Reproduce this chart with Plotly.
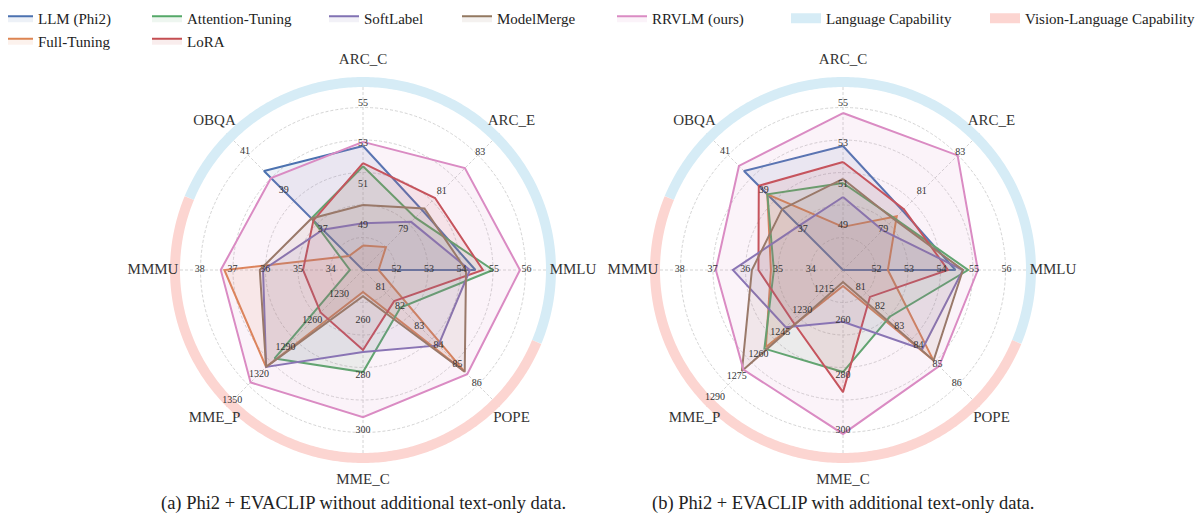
import numpy as np
import plotly.graph_objects as go

# ---------------- data ----------------
CATEGORIES = ["ARC_C", "ARC_E", "MMLU", "POPE", "MME_C", "MME_P", "MMMU", "OBQA"]
ANGLES = [0, 45, 90, 135, 180, 225, 270, 315]

SERIES = ["LLM (Phi2)", "Full-Tuning", "Attention-Tuning", "LoRA",
          "SoftLabel", "ModelMerge", "RRVLM (ours)"]
COLORS = ["#4C72B0", "#DD8452", "#55A868", "#C44E52", "#8172B3", "#937860", "#DA8BC3"]

# (a) without additional text-only data
A_LLM       = [52.9, 80.0, 54.43, None, None, None, None, 40.02]
A_FULL      = [48.0, 78.1, 51.45, 85.35, 249.8, 1312.0, 37.25, 35.65]
A_ATTN      = [51.9, 79.63, 54.97, 82.03, 278.9, 1302.4, 33.42, 37.58]
A_LORA      = [52.06, 80.65, 54.66, 81.7, 270.9, 1250.7, 34.85, 37.48]
A_SOFT      = [49.1, 79.41, 54.26, 84.0, 271.6, 1311.9, 36.07, 37.0]
A_MERGE     = [50.0, 80.1, 54.14, 85.37, 251.3, 1311.9, 36.17, 37.58]
A_RRVLM     = [53.1, 82.2, 55.8, 85.5, 295.3, 1329.4, 37.36, 39.66]

# (b) with additional text-only data
B_LLM       = [52.9, 80.0, 54.43, None, None, None, None, 40.02]
B_FULL      = [48.92, 79.7, 52.35, 84.79, 247.6, 1255.0, 35.22, 38.82]
B_ATTN      = [51.08, 79.59, 54.82, 82.51, 278.9, 1256.0, 35.13, 38.82]
B_LORA      = [52.11, 80.07, 54.2, 81.48, 286.2, 1236.8, 35.6, 39.26]
B_SOFT      = [50.39, 78.97, 54.66, 84.2, 260.6, 1241.3, 36.38, 37.2]
B_MERGE     = [51.28, 79.55, 54.66, 84.79, 246.2, 1271.5, 35.8, 38.06]
B_RRVLM     = [54.52, 82.86, 55.12, 85.08, 301.4, 1270.5, 36.9, 40.28]

# per-axis scale (value at centre, value at outer ring)
A_LO = [46.8, 76.91, 50.97, 80.08, 241.8, 1203.0, 33.02, 34.93]
A_HI = [56.39, 84.07, 56.97, 87.25, 312.7, 1358.0, 38.97, 42.02]
B_LO = [46.8, 76.91, 50.97, 80.08, 241.8, 1201.85, 33.02, 34.93]
B_HI = [56.39, 84.07, 56.97, 87.25, 312.7, 1296.85, 38.97, 42.02]

# tick labels per axis
TICKS_COMMON = {
    "ARC_C": [49, 51, 53, 55],
    "ARC_E": [79, 81, 83],
    "MMLU": [52, 53, 54, 55, 56],
    "POPE": [81, 82, 83, 84, 85, 86],
    "MME_C": [260, 280, 300],
    "MMMU": [34, 35, 36, 37, 38],
    "OBQA": [37, 39, 41],
}
A_TICKS_MME_P = [1230, 1260, 1290, 1320, 1350]
B_TICKS_MME_P = [1215, 1230, 1245, 1260, 1275, 1290]

CAPTIONS = ["(a) Phi2 + EVACLIP without additional text-only data.",
            "(b) Phi2 + EVACLIP with additional text-only data."]

LANG_COLOR = "rgb(214,236,246)"
VL_COLOR = "rgb(252,213,209)"
GRID_COLOR = "#d4d4d4"
FONT = "Liberation Serif"

A_DATA = [A_LLM, A_FULL, A_ATTN, A_LORA, A_SOFT, A_MERGE, A_RRVLM]
B_DATA = [B_LLM, B_FULL, B_ATTN, B_LORA, B_SOFT, B_MERGE, B_RRVLM]

LEGEND_OF = ["legend", "legend", "legend2", "legend2", "legend3", "legend4", "legend5"]


def hex_rgba(h, a):
    h = h.lstrip("#")
    return "rgba(%d,%d,%d,%s)" % (int(h[0:2], 16), int(h[2:4], 16), int(h[4:6], 16), a)


def norm(vals, lo, hi):
    return [0.0 if v is None else (v - l) / (h - l) for v, l, h in zip(vals, lo, hi)]


fig = go.Figure()

RMAX = 1.13
BAND_R = 188 / 195
LABEL_R = 210 / 195

for pi, (data, lo, hi, mmep_ticks) in enumerate([(A_DATA, A_LO, A_HI, A_TICKS_MME_P),
                                                   (B_DATA, B_LO, B_HI, B_TICKS_MME_P)]):
    polar = "polar" if pi == 0 else "polar2"
    # spokes
    sr, st = [], []
    for a in ANGLES:
        sr += [0, 1, None]
        st += [a, a, None]
    fig.add_trace(go.Scatterpolar(r=sr, theta=st, mode="lines",
                                  line=dict(color=GRID_COLOR, width=1, dash="3px,2px"),
                                  subplot=polar, showlegend=False, hoverinfo="skip"))
    # capability bands
    th_l = np.linspace(-67.5, 112.5, 241)
    th_v = np.linspace(112.5, 292.5, 241)
    fig.add_trace(go.Scatterpolar(r=[BAND_R] * len(th_l), theta=th_l, mode="lines",
                                  line=dict(color=LANG_COLOR, width=10),
                                  name="Language Capability", subplot=polar,
                                  showlegend=(pi == 0), legend="legend6", hoverinfo="skip"))
    fig.add_trace(go.Scatterpolar(r=[BAND_R] * len(th_v), theta=th_v, mode="lines",
                                  line=dict(color=VL_COLOR, width=10),
                                  name="Vision-Language Capability", subplot=polar,
                                  showlegend=(pi == 0), legend="legend7", hoverinfo="skip"))
    # series
    for si, (name, col, vals) in enumerate(zip(SERIES, COLORS, data)):
        r = norm(vals, lo, hi)
        fig.add_trace(go.Scatterpolar(
            r=r + [r[0]], theta=ANGLES + [ANGLES[0]], mode="lines",
            line=dict(color=col, width=2), fill="toself", fillcolor=hex_rgba(col, 0.1),
            name=name, subplot=polar, showlegend=(pi == 0), legend=LEGEND_OF[si]))
    # tick labels
    tr, tt, tx = [], [], []
    for ci, cat in enumerate(CATEGORIES):
        ticks = mmep_ticks if cat == "MME_P" else TICKS_COMMON[cat]
        for t in ticks:
            tr.append((t - lo[ci]) / (hi[ci] - lo[ci]))
            tt.append(ANGLES[ci])
            tx.append(str(t))
    fig.add_trace(go.Scatterpolar(r=tr, theta=tt, mode="text", text=tx,
                                  textfont=dict(family=FONT, size=10, color="#333333"),
                                  subplot=polar, showlegend=False, hoverinfo="skip",
                                  cliponaxis=False))
    # axis names
    fig.add_trace(go.Scatterpolar(r=[LABEL_R] * len(CATEGORIES), theta=ANGLES, mode="text",
                                  text=CATEGORIES,
                                  textfont=dict(family=FONT, size=15, color="#333333"),
                                  subplot=polar, showlegend=False, hoverinfo="skip",
                                  cliponaxis=False))

# page has an 8px body margin: figure pixel = reference pixel - 8
OFF = 8
W, H = 1203 - OFF, 518 - OFF
R = 195 * RMAX
centers = [363 - OFF, 843 - OFF]
cy = 270 - OFF
polar_common = dict(
    bgcolor="white",
    radialaxis=dict(range=[0, RMAX], tickvals=[1 / 6, 2 / 6, 3 / 6, 4 / 6, 5 / 6],
                    showticklabels=False, ticks="", showline=False,
                    gridcolor=GRID_COLOR, griddash="3px,2px", gridwidth=1),
    angularaxis=dict(rotation=90, direction="clockwise", tickvals=ANGLES,
                     showticklabels=False, ticks="", showline=False, showgrid=False,
                     thetaunit="degrees"),
)
ydom = [(H - cy - R) / H, (H - cy + R) / H]
fig.update_layout(
    width=W, height=H, margin=dict(l=0, r=0, t=0, b=0, pad=0, autoexpand=False),
    paper_bgcolor="white",
    polar=dict(domain=dict(x=[(centers[0] - R) / W, (centers[0] + R) / W], y=ydom), **polar_common),
    polar2=dict(domain=dict(x=[(centers[1] - R) / W, (centers[1] + R) / W], y=ydom), **polar_common),
    font=dict(family=FONT, color="#222222"),
)

legend_x_px = [-2, 147, 324, 457, 612, 786, 985]
for i, xp in enumerate(legend_x_px):
    key = "legend" if i == 0 else "legend%d" % (i + 1)
    fig.update_layout({key: dict(x=(xp - OFF) / W, y=1.0 + 6 / H, xanchor="left", yanchor="top",
                                 orientation="v", bgcolor="rgba(0,0,0,0)",
                                 font=dict(family=FONT, size=15, color="#222222"),
                                 tracegroupgap=0, itemwidth=30)})

for i, cap in enumerate(CAPTIONS):
    fig.add_annotation(text=cap, x=centers[i] / W, y=(H - (503 - OFF)) / H,
                       xref="paper", yref="paper",
                       showarrow=False, xanchor="center", yanchor="middle",
                       font=dict(family=FONT, size=18.5, color="#222222"))

fig.write_html("out.html")
